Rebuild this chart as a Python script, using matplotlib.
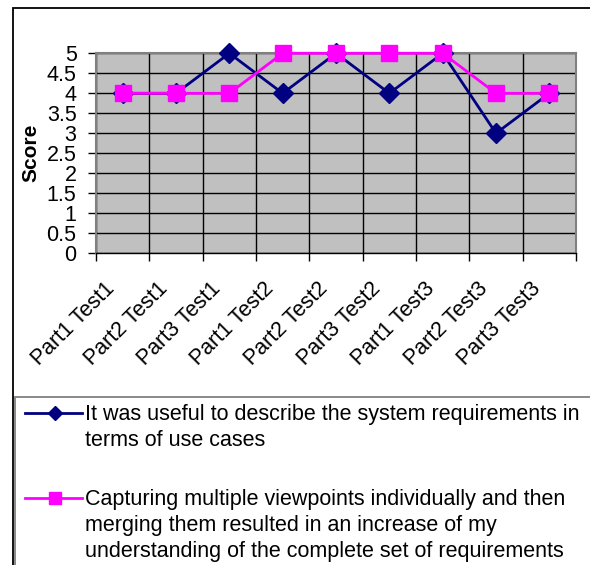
import matplotlib
matplotlib.use('Agg')
import matplotlib.pyplot as plt
import matplotlib.transforms as mtransforms
from matplotlib.patches import Rectangle
from matplotlib.lines import Line2D

plt.rcParams['font.family'] = ['Liberation Sans', 'DejaVu Sans']

categories = ['Part1 Test1', 'Part2 Test1', 'Part3 Test1',
              'Part1 Test2', 'Part2 Test2', 'Part3 Test2',
              'Part1 Test3', 'Part2 Test3', 'Part3 Test3']
use_cases = [4, 4, 5, 4, 5, 4, 5, 3, 4]
viewpoints = [4, 4, 4, 5, 5, 5, 5, 4, 4]
label_use_cases = 'It was useful to describe the system requirements in\nterms of use cases'
label_viewpoints = ('Capturing multiple viewpoints individually and then\n'
                    'merging them resulted in an increase of my\n'
                    'understanding of the complete set of requirements')

W, H = 590, 565
fig = plt.figure(figsize=(W / 100, H / 100), dpi=100)

def fx(px):
    return px / W

def fy(py):
    return (H - py) / H

# outer chart border (runs off the right and bottom edges)
fig.patches.append(Rectangle((fx(13), -0.1), 1.0, fy(8) + 0.1,
                             transform=fig.transFigure, fill=False,
                             edgecolor='black', linewidth=1.3))
# legend box
fig.patches.append(Rectangle((fx(15), -0.1), 1.0, fy(397) + 0.1,
                             transform=fig.transFigure, fill=False,
                             edgecolor='#808080', linewidth=1.3))

ax = fig.add_axes([fx(96), fy(253.3), 480 / W, 200 / H])
ax.set_facecolor('#C0C0C0')

x = list(range(1, len(categories) + 1))
ax.plot(x, use_cases, color='#000080', linewidth=2, marker='D',
        markersize=10.5, zorder=3, clip_on=False)
ax.plot(x, viewpoints, color='#FF00FF', linewidth=2, marker='s',
        markersize=11, zorder=4, clip_on=False)

ax.set_xlim(0.5, len(categories) + 0.5)
ax.set_ylim(0, 5)
ax.set_yticks([i * 0.5 for i in range(11)])
ax.set_yticklabels(['0', '0.5', '1', '1.5', '2', '2.5', '3', '3.5', '4', '4.5', '5'])
ax.set_xticks([i + 0.5 for i in range(len(categories) + 1)])
ax.set_xticklabels([])
ax.set_xticks(x, minor=True)
ax.set_xticklabels(categories, minor=True, rotation=45, ha='right', va='top',
                   rotation_mode='anchor', fontsize=15.5)
ax.tick_params(axis='x', which='minor', length=0, pad=18)
ax.tick_params(axis='x', which='major', length=6, width=1, direction='out')
ax.tick_params(axis='y', length=6, width=1, direction='out', labelsize=15.5, pad=8)
offset = mtransforms.ScaledTranslation(-19 / 100, 0, fig.dpi_scale_trans)
for lab in ax.get_xticklabels(minor=True):
    lab.set_transform(lab.get_transform() + offset)

ax.grid(True, which='major', color='black', linewidth=1)
ax.set_axisbelow(True)
for side in ax.spines:
    ax.spines[side].set_color('#808080')
    ax.spines[side].set_linewidth(1.5)
ax.spines['bottom'].set_color('black')
ax.spines['bottom'].set_linewidth(1)

ax.set_ylabel('Score', fontsize=15, fontweight='bold')
ax.yaxis.set_label_coords(-0.116, 0.5)

# legend: handle sits level with the first line of each label
entries = [
    (label_use_cases, '#000080', 'D', 7.5, 413),
    (label_viewpoints, '#FF00FF', 's', 8, 498),
]
for text, color, marker, msize, yc in entries:
    fig.add_artist(Line2D([fx(25), fx(82)], [fy(yc), fy(yc)],
                          transform=fig.transFigure, color=color, linewidth=2))
    fig.add_artist(Line2D([fx(55)], [fy(yc)], transform=fig.transFigure,
                          color=color, marker=marker, markersize=msize,
                          linestyle='none'))
    fig.text(fx(85), fy(yc - 9), text, fontsize=15.5, va='top', ha='left',
             linespacing=1.3)

fig.savefig('out.png', dpi=100)
